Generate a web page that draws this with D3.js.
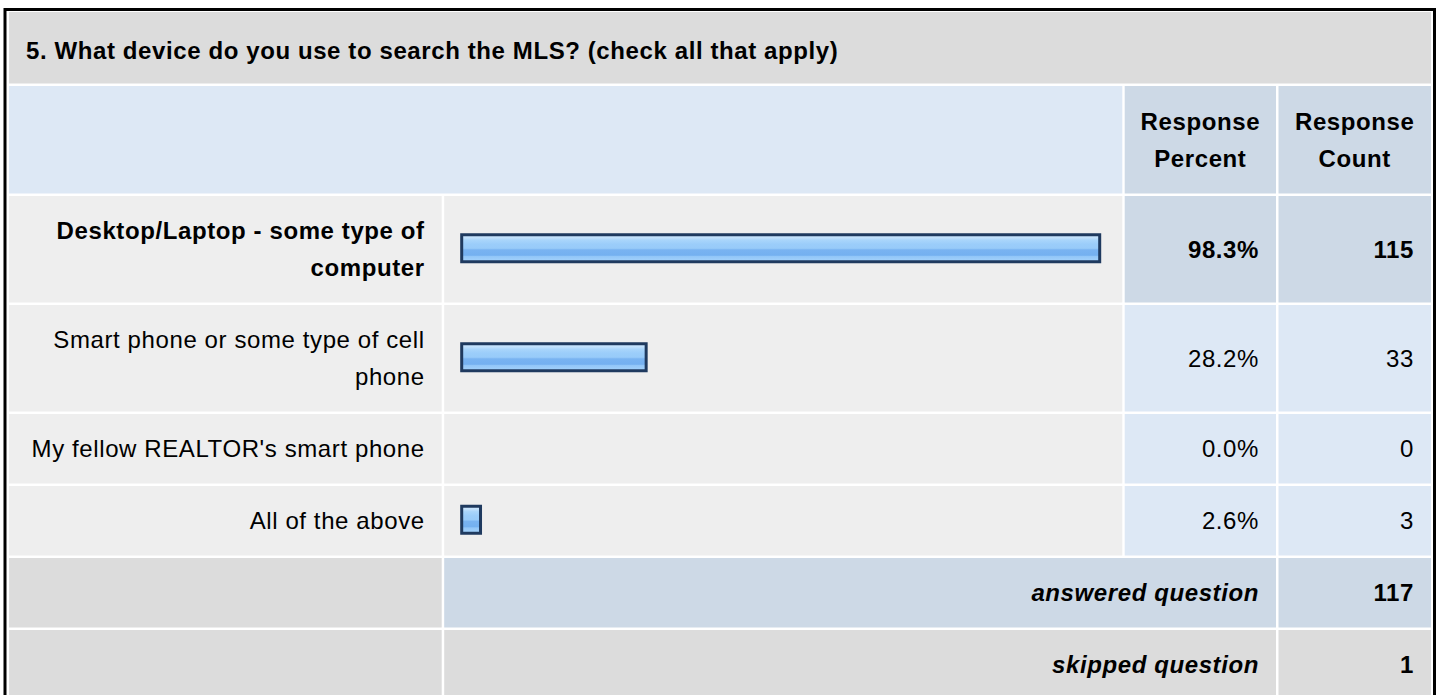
<!DOCTYPE html>
<html>
<head>
<meta charset="utf-8">
<script src="https://cdn.jsdelivr.net/npm/d3@7"></script>
<style>
  html, body { margin: 0; padding: 0; background: #fff; overflow: hidden; }
  svg text { font-family: "Liberation Sans", Arial, sans-serif; font-size: 24px; fill: #000; letter-spacing: 0.6px; }
</style>
</head>
<body>
<svg id="chart" width="1440" height="695"></svg>
<script>
let questionTitle = "5. What device do you use to search the MLS? (check all that apply)";
let answerChoices = [
    "Desktop/Laptop - some type of computer",
    "Smart phone or some type of cell phone",
    "My fellow REALTOR's smart phone",
    "All of the above"
];
let responsePercent = [98.3, 28.2, 0.0, 2.6];
let responseCount = [115, 33, 0, 3];
let headerLabels = [["Response", "Percent"], ["Response", "Count"]];
let summaryLabels = ["answered question", "skipped question"];
let summaryCounts = [117, 1];

let svg = d3.select("#chart"),
    gap = 2.5,
    lineH = 37,
    textPad = 17,
    wrapWidth = 405,
    colLabel = [9, 441.7],
    colBar = [444.2, 1122.3],
    colPct = [1124.7, 1276],
    colCount = [1278.5, 1431];

const C_TITLE = "#dcdcdc",
      C_HEAD = "#dde8f5",
      C_DARK = "#cdd9e6",
      C_ROW = "#eeeeee";

// bar length scale (outer border adds a few px)
let barScale = d3.scaleLinear().domain([0, 100]).range([0, 647]);

let defs = svg.append("defs");
let grad = defs.append("linearGradient")
    .attr("id", "barGrad")
    .attr("x1", 0).attr("y1", 0).attr("x2", 0).attr("y2", 1);
[["0", "#d3eafd"], ["0.12", "#c0e0fc"], ["0.2", "#a9d5fb"], ["0.35", "#9bcdfa"],
 ["0.5", "#98cbf9"], ["0.56", "#79b3f1"], ["0.76", "#74b0f0"], ["0.8", "#92c6f8"], ["1", "#a6d3fb"]]
    .forEach(s => grad.append("stop").attr("offset", s[0]).attr("stop-color", s[1]));

// measure + wrap text into lines
let measurer = svg.append("text").attr("x", -1000).attr("y", -1000);
function wrap(str, bold) {
    measurer.attr("font-weight", bold ? "bold" : "normal");
    let words = str.split(" "), lines = [], cur = "";
    words.forEach(w => {
        let test = cur ? cur + " " + w : w;
        measurer.text(test);
        if (measurer.node().getComputedTextLength() > wrapWidth && cur) {
            lines.push(cur);
            cur = w;
        } else {
            cur = test;
        }
    });
    lines.push(cur);
    return lines;
}

let maxIdx = d3.maxIndex(responsePercent);

let rows = answerChoices.map((d, i) => {
    let bold = i === maxIdx;
    let lines = wrap(d, bold);
    return {label: d, lines: lines, pct: responsePercent[i], count: responseCount[i], bold: bold};
});
measurer.remove();

function rowHeight(n) { return n * lineH + 32.5; }

function cell(x0, x1, y, h, fill) {
    svg.append("rect")
        .attr("x", x0).attr("y", y)
        .attr("width", x1 - x0).attr("height", h)
        .attr("fill", fill);
}

function lines(txt, x, y, h, anchor, weight, style) {
    let n = txt.length;
    let t = svg.append("g");
    txt.forEach((s, i) => {
        t.append("text")
            .attr("x", x)
            .attr("y", y + (h - n * lineH) / 2 + lineH * (i + 0.5))
            .attr("dy", "0.35em")
            .attr("text-anchor", anchor)
            .attr("font-weight", weight || "normal")
            .attr("font-style", style || "normal")
            .text(s);
    });
}

// title
let y = 12;
let titleH = 71.5;
cell(colLabel[0], colCount[1], y, titleH, C_TITLE);
svg.append("text")
    .attr("x", 26)
    .attr("y", y + titleH / 2 + 2.5)
    .attr("dy", "0.35em")
    .attr("font-weight", "bold")
    .text(questionTitle);
y += titleH + gap;

// header
let headH = 107.5;
cell(colLabel[0], colBar[1], y, headH, C_HEAD);
cell(colPct[0], colPct[1], y, headH, C_DARK);
cell(colCount[0], colCount[1], y, headH, C_DARK);
lines(headerLabels[0], (colPct[0] + colPct[1]) / 2, y, headH, "middle", "bold");
lines(headerLabels[1], (colCount[0] + colCount[1]) / 2, y, headH, "middle", "bold");
y += headH + gap;

// answer rows
rows.forEach(r => {
    let h = rowHeight(r.lines.length);
    let w = r.bold ? "bold" : "normal";
    cell(colLabel[0], colLabel[1], y, h, C_ROW);
    cell(colBar[0], colBar[1], y, h, C_ROW);
    cell(colPct[0], colPct[1], y, h, r.bold ? C_DARK : C_HEAD);
    cell(colCount[0], colCount[1], y, h, r.bold ? C_DARK : C_HEAD);

    lines(r.lines, colLabel[1] - textPad, y, h, "end", w);
    lines([r.pct.toFixed(1) + "%"], colPct[1] - textPad, y, h, "end", w);
    lines([String(r.count)], colCount[1] - textPad, y, h, "end", w);

    if (r.pct > 0) {
        let bx = colBar[0] + 16, bh = 30, sw = 3;
        let by = y + h / 2 - bh / 2 - 1;
        svg.append("rect")
            .attr("x", bx + sw / 2)
            .attr("y", by + sw / 2)
            .attr("width", barScale(r.pct) + 5 - sw)
            .attr("height", bh - sw)
            .attr("fill", "url(#barGrad)")
            .attr("stroke", "#1f3a5f")
            .attr("stroke-width", sw);
    }
    y += h + gap;
});

// summary rows
summaryLabels.forEach((lab, i) => {
    let h = rowHeight(1);
    let fill = i === 0 ? C_DARK : C_TITLE;
    cell(colLabel[0], colLabel[1], y, h, C_TITLE);
    cell(colBar[0], colPct[1], y, h, fill);
    cell(colCount[0], colCount[1], y, h, fill);
    lines([lab], colPct[1] - textPad, y, h, "end", "bold", "italic");
    lines([String(summaryCounts[i])], colCount[1] - textPad, y, h, "end", "bold");
    y += h + gap;
});

// outer frame
svg.append("rect")
    .attr("x", 5).attr("y", 9.5)
    .attr("width", 1429.5).attr("height", 800)
    .attr("fill", "none")
    .attr("stroke", "#000")
    .attr("stroke-width", 3);
</script>
</body>
</html>
